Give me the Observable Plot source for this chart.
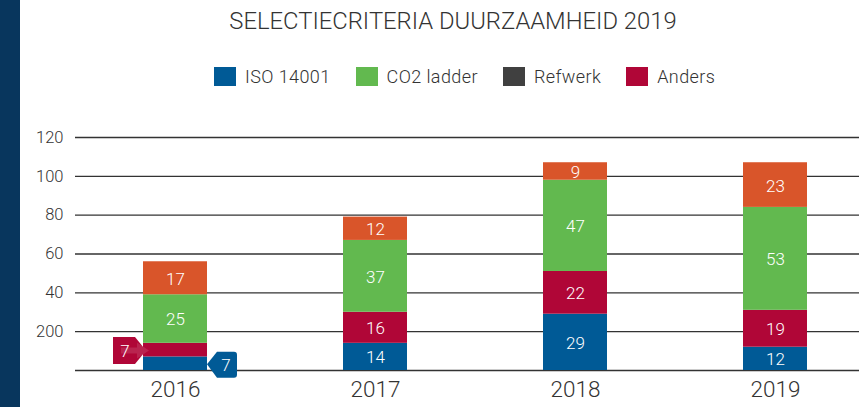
<!DOCTYPE html>
<html><head><meta charset="utf-8">
<script src="https://cdn.jsdelivr.net/npm/d3@7"></script>
<script src="https://cdn.jsdelivr.net/npm/@observablehq/plot@0.6"></script>
<style>
body{margin:0;background:#fff;font-family:Roboto,"DejaVu Sans",sans-serif;font-weight:300;}
#wrap{position:relative;width:859px;height:407px;overflow:hidden;background:#fff;}
#strip{position:absolute;left:0;top:0;width:20px;height:407px;background:#08365d;}
#title{position:absolute;top:7px;left:47px;width:812px;text-align:center;font-size:23.8px;color:#333;}
#legend{position:absolute;top:66px;left:214px;display:flex;align-items:center;font-size:18px;letter-spacing:0.4px;color:#333;}
.item{display:flex;align-items:center;margin-right:25px;}
.sw{width:22px;height:19px;margin-right:9px;}
#chart{position:absolute;left:0;top:115px;}
</style></head>
<body>
<div id="wrap">
  <div id="strip"></div>
  <div id="title">SELECTIECRITERIA DUURZAAMHEID 2019</div>
  <div id="legend"></div>
  <div id="chart"></div>
</div>
<script>
const years = ["2016", "2017", "2018", "2019"];
const series = ["ISO 14001", "Anders", "CO2 ladder", "Refwerk"];
const isoValues = [7, 14, 29, 12];
const andersValues = [7, 16, 22, 19];
const co2Values = [25, 37, 47, 53];
const refwerkValues = [17, 12, 9, 23];
const yTicks = [0, 20, 40, 60, 80, 100, 120];
const yTickLabels = ["", "200", "40", "60", "80", "100", "120"];
const legendOrder = ["ISO 14001", "CO2 ladder", "Refwerk", "Anders"];
const barColors = ["#005a96", "#b00637", "#62b94f", "#d9552a"];
const legendColors = {"ISO 14001": "#005a96", "CO2 ladder": "#62b94f", "Refwerk": "#404040", "Anders": "#b00637"};

const valuesBySeries = [isoValues, andersValues, co2Values, refwerkValues];
const rows = [];
years.forEach((year, i) => {
  series.forEach((s, j) => rows.push({year, series: s, value: valuesBySeries[j][i]}));
});

// legend
const legend = document.getElementById("legend");
legendOrder.forEach(s => {
  const it = document.createElement("div");
  it.className = "item";
  it.innerHTML = `<div class="sw" style="background:${legendColors[s]}"></div><span>${s}</span>`;
  legend.appendChild(it);
});

const hidden = d => d.year === "2016" && (d.series === "ISO 14001" || d.series === "Anders");

function callouts(index, scales) {
  const x = scales.x, y = scales.y;
  const bw = x.bandwidth ? x.bandwidth() : 64;
  const x0 = x(years[0]);
  const g = d3.create("svg:g");
  // Anders flag (left)
  const ya = y(isoValues[0] + andersValues[0] / 2) + 1;
  const h = 13.5;
  g.append("path")
    .attr("d", `M${x0 - 30},${ya - h} L${x0 - 8},${ya - h} L${x0 + 3},${ya} L${x0 - 8},${ya + h} L${x0 - 30},${ya + h} Z`)
    .attr("fill", "#b00637");
  g.append("path")
    .attr("d", `M${x0 - 22},${ya - 3} L${x0 - 6},${ya - 3} L${x0 - 6},${ya - 8} L${x0 + 6},${ya} L${x0 - 6},${ya + 8} L${x0 - 6},${ya + 3} L${x0 - 22},${ya + 3} Z`)
    .attr("fill", "#ffffff").attr("fill-opacity", 0.12);
  g.append("text").attr("x", x0 - 18).attr("y", ya).attr("dy", "0.35em")
    .attr("text-anchor", "middle").attr("fill", "#fff").attr("font-size", 17).text(andersValues[0]);
  // ISO tag (right)
  const yi = y(isoValues[0] / 2) + 1;
  const xr = x0 + bw;
  const r = 3;
  g.append("path")
    .attr("d", `M${xr},${yi} L${xr + 10},${yi - h + 1} L${xr + 30 - r},${yi - h + 1} Q${xr + 30},${yi - h + 1} ${xr + 30},${yi - h + 1 + r} L${xr + 30},${yi + h - r} Q${xr + 30},${yi + h} ${xr + 30 - r},${yi + h} L${xr + 10},${yi + h} Z`)
    .attr("fill", "#005a96");
  g.append("text").attr("x", xr + 19).attr("y", yi + 1).attr("dy", "0.35em")
    .attr("text-anchor", "middle").attr("fill", "#fff").attr("font-size", 17).text(isoValues[0]);
  return g.node();
}

const plot = Plot.plot({
  width: 859,
  height: 292,
  marginLeft: 75,
  marginRight: 0,
  marginTop: 22,
  marginBottom: 37,
  style: {fontFamily: "Roboto, 'DejaVu Sans', sans-serif", fontWeight: 300, fontSize: "16px", color: "#333", background: "transparent", overflow: "visible"},
  x: {domain: years, range: [75, 875], paddingInner: 0.68, paddingOuter: 0.34, axis: null},
  y: {domain: [0, 120], axis: null},
  color: {domain: series, range: barColors},
  marks: [
    Plot.ruleY(yTicks, {stroke: "#333", strokeWidth: 1.3}),
    Plot.text(yTicks, {y: d => d, text: (d, i) => yTickLabels[i], frameAnchor: "left", textAnchor: "end", dx: -12, fill: "#333", fontSize: 16.5}),
    Plot.text(years, {x: d => d, text: d => d, frameAnchor: "bottom", dy: 26, fill: "#333", fontSize: 22.5}),
    Plot.barY(rows, {x: "year", y: "value", fill: "series", order: series}),
    Plot.text(rows, Plot.stackY({x: "year", y: "value", z: "series", order: series, text: d => hidden(d) ? null : String(d.value), fill: "#fff", fontSize: 17, dy: 1})),
    callouts
  ]
});
document.getElementById("chart").appendChild(plot);
</script>
</body></html>
